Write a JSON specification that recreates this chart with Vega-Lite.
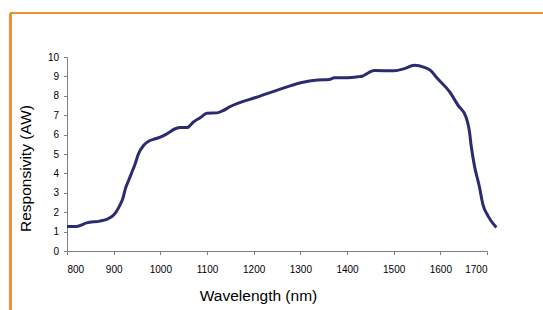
{
  "$schema": "https://vega.github.io/schema/vega-lite/v6.json",
  "width": 420,
  "height": 194,
  "autosize": {"type": "none"},
  "padding": {"left": 67, "top": 57, "right": 56, "bottom": 59},
  "background": "white",
  "config": {
    "view": {"stroke": null},
    "axis": {
      "grid": false,
      "domainColor": "#808080",
      "tickColor": "#808080",
      "tickSize": 3.5,
      "labelFont": "Liberation Sans",
      "labelFontSize": 10,
      "labelColor": "#000000",
      "labelOverlap": false,
      "titleFont": "Liberation Sans",
      "titleFontSize": 15.5,
      "titleFontWeight": "normal",
      "titleColor": "#000000"
    }
  },
  "data": {
    "values": [
      {"wl": 800, "r": 1.26}, {"wl": 820, "r": 1.26}, {"wl": 842, "r": 1.45},
      {"wl": 870, "r": 1.54}, {"wl": 885, "r": 1.63}, {"wl": 900, "r": 1.85},
      {"wl": 911, "r": 2.25}, {"wl": 920, "r": 2.73}, {"wl": 925, "r": 3.2},
      {"wl": 932, "r": 3.63}, {"wl": 939, "r": 4.06}, {"wl": 946, "r": 4.49},
      {"wl": 953, "r": 5.0}, {"wl": 964, "r": 5.44}, {"wl": 975, "r": 5.66},
      {"wl": 985, "r": 5.75}, {"wl": 1000, "r": 5.87}, {"wl": 1014, "r": 6.04},
      {"wl": 1032, "r": 6.3}, {"wl": 1043, "r": 6.36}, {"wl": 1057, "r": 6.36},
      {"wl": 1071, "r": 6.65}, {"wl": 1086, "r": 6.88}, {"wl": 1100, "r": 7.1},
      {"wl": 1122, "r": 7.12}, {"wl": 1133, "r": 7.22}, {"wl": 1151, "r": 7.46},
      {"wl": 1208, "r": 7.94}, {"wl": 1251, "r": 8.29}, {"wl": 1301, "r": 8.67},
      {"wl": 1337, "r": 8.81}, {"wl": 1362, "r": 8.84}, {"wl": 1373, "r": 8.93},
      {"wl": 1401, "r": 8.93}, {"wl": 1423, "r": 8.98}, {"wl": 1434, "r": 9.02},
      {"wl": 1441, "r": 9.12}, {"wl": 1459, "r": 9.3}, {"wl": 1501, "r": 9.29},
      {"wl": 1523, "r": 9.4}, {"wl": 1544, "r": 9.57}, {"wl": 1566, "r": 9.46},
      {"wl": 1580, "r": 9.29}, {"wl": 1591, "r": 8.97}, {"wl": 1620, "r": 8.2},
      {"wl": 1638, "r": 7.51}, {"wl": 1655, "r": 6.91}, {"wl": 1662, "r": 6.22},
      {"wl": 1666, "r": 5.44}, {"wl": 1673, "r": 4.4}, {"wl": 1684, "r": 3.28},
      {"wl": 1691, "r": 2.42}, {"wl": 1702, "r": 1.81}, {"wl": 1720, "r": 1.21}
    ]
  },
  "resolve": {"axis": {"x": "independent", "y": "independent"}},
  "layer": [
    {
      "mark": {"type": "line", "color": "#2b2b70", "strokeWidth": 3, "interpolate": "monotone"},
      "encoding": {
        "x": {
          "field": "wl", "type": "quantitative",
          "scale": {"domain": [800, 1700], "nice": false, "zero": false},
          "axis": {"values": [800, 900, 1000, 1100, 1200, 1300, 1400, 1500, 1600, 1700], "labelOverlap": false, "labelPadding": 10, "titlePadding": 14, "titleX": 191, "title": "Wavelength (nm)", "format": "d"}
        },
        "y": {
          "field": "r", "type": "quantitative",
          "scale": {"domain": [0, 10], "nice": false},
          "axis": {"values": [0, 1, 2, 3, 4, 5, 6, 7, 8, 9, 10], "labelOverlap": false, "tickCount": 11, "labelPadding": 5, "titlePadding": 14, "titleY": 111, "title": "Responsivity (AW)"}
        }
      }
    },
    {
      "mark": {"type": "rule", "color": "#ee9236", "strokeWidth": 2},
      "encoding": {
        "x": {"datum": 678.5, "type": "quantitative", "axis": null},
        "y": {"datum": 12.27, "type": "quantitative", "axis": null},
        "y2": {"datum": -3.5}
      }
    },
    {
      "mark": {"type": "rule", "color": "#ee9236", "strokeWidth": 2},
      "encoding": {
        "y": {"datum": 12.27, "type": "quantitative", "axis": null},
        "x": {"datum": 678.5, "type": "quantitative", "axis": null},
        "x2": {"datum": 1860}
      }
    }
  ]
}
